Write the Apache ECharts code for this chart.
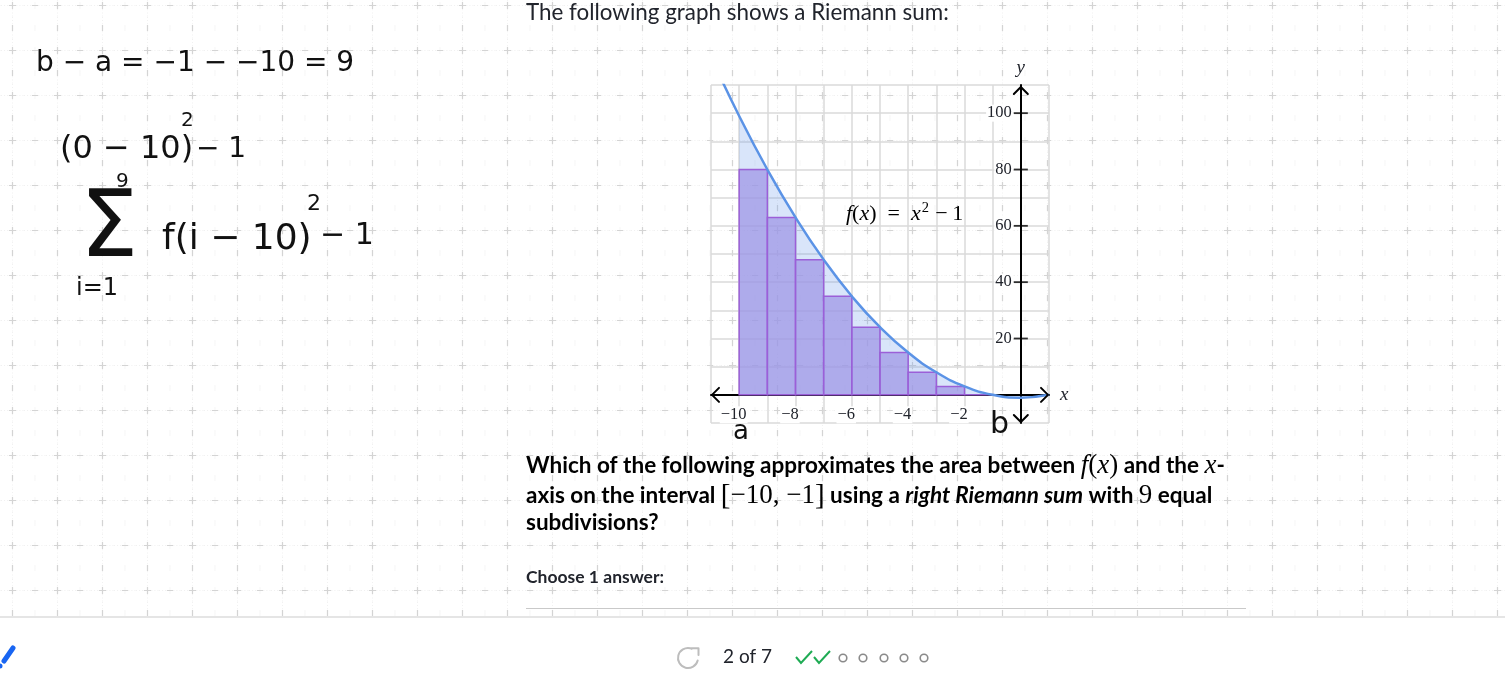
<!DOCTYPE html>
<html><head><meta charset="utf-8">
<script src="https://cdn.jsdelivr.net/npm/echarts@6/dist/echarts.min.js"></script>
<style>
html,body{margin:0;padding:0;background:#fff;overflow:hidden;}
#paper{position:absolute;left:0;top:0;width:1505px;height:616px;
background-image:url("data:image/svg+xml;utf8,<svg xmlns='http://www.w3.org/2000/svg' width='22.5' height='22.5'><path d='M0 11.25H22.5M11.25 0V22.5' stroke='%23f1f1f1' stroke-width='1' stroke-dasharray='1 2'/><path d='M7.75 11.25H14.75M11.25 7.75V14.75' stroke='%23d4d4d4' stroke-width='1.2'/></svg>");
background-size:22.5px 22.5px;background-position:1.25px -5.75px;}
#chart{position:absolute;left:0;top:0;width:1505px;height:678px;}
</style></head>
<body>
<div id="paper"></div>
<div id="chart"></div>
<script>
// ---- data ----
const xTickLabels = [-10, -8, -6, -4, -2];
const yTickLabels = [20, 40, 60, 80, 100];
const rectLeft   = [-10, -9, -8, -7, -6, -5, -4, -3, -2];
const rectRight  = [-9, -8, -7, -6, -5, -4, -3, -2, -1];
const rectHeight = [80, 63, 48, 35, 24, 15, 8, 3, 0];
const curveX = [-11, -10, -9, -8, -7, -6, -5, -4, -3, -2, -1, 0, 1];
const curveY = [120, 99, 80, 63, 48, 35, 24, 15, 8, 3, 0, -1, 0];
const shadeX = [-10, -9, -8, -7, -6, -5, -4, -3, -2, -1];
const shadeY = [99, 80, 63, 48, 35, 24, 15, 8, 3, 0];

const ink = '#21242c';
const serif = "'Liberation Serif', 'DejaVu Serif', serif";
const lato = "Lato, 'Noto Sans', sans-serif";
const hand = "'DejaVu Sans', sans-serif";
const minus = v => String(v).replace('-', '\u2212');

const chart = echarts.init(document.getElementById('chart'), null, {renderer: 'canvas'});

const option = {
  backgroundColor: 'transparent',
  animation: false,
  grid: {left: 711, top: 85, width: 338, height: 338, containLabel: false},
  xAxis: {
    type: 'value', min: -11, max: 1, interval: 1,
    name: 'x', nameLocation: 'end', nameGap: 11,
    nameTextStyle: {fontFamily: serif, fontStyle: 'italic', fontSize: 19, color: ink},
    axisLine: {onZero: true, lineStyle: {color: '#000', width: 2}},
    axisTick: {show: false},
    axisLabel: {show: false},
    splitLine: {show: true, lineStyle: {color: '#dadada', width: 1.5}}
  },
  yAxis: {
    type: 'value', min: -10, max: 110, interval: 10,
    name: 'y', nameLocation: 'end', nameGap: 8,
    nameTextStyle: {fontFamily: serif, fontStyle: 'italic', fontSize: 19, color: ink},
    axisLine: {onZero: true, lineStyle: {color: '#000', width: 2}},
    axisTick: {show: false},
    axisLabel: {show: false},
    splitLine: {show: true, lineStyle: {color: '#dadada', width: 1.5}}
  },
  series: [
    {
      type: 'line', z: 1, silent: true, smooth: true, symbol: 'none',
      data: shadeX.map((x, i) => [x, shadeY[i]]),
      lineStyle: {width: 0},
      areaStyle: {color: 'rgba(100,150,235,0.35)', origin: 0}
    },
    {
      type: 'custom', z: 2, silent: true,
      data: rectLeft.map((l, i) => [l, rectRight[i], rectHeight[i]]),
      encode: {x: [0, 1], y: 2},
      renderItem: function (params, api) {
        const p0 = api.coord([api.value(0), api.value(2)]);
        const p1 = api.coord([api.value(1), 0]);
        return {type: 'rect',
          shape: {x: p0[0], y: p0[1], width: p1[0] - p0[0], height: p1[1] - p0[1]},
          style: {fill: 'rgba(158,148,228,0.72)', stroke: '#9b5fd8', lineWidth: 1.5}};
      }
    },
    {
      type: 'line', z: 3, silent: true, smooth: true, symbol: 'none',
      data: curveX.map((x, i) => [x, curveY[i]]),
      lineStyle: {color: '#5b93e6', width: 2.5}
    },
    {
      type: 'scatter', z: 4, silent: true, symbol: 'rect', symbolSize: [14, 1.8],
      data: yTickLabels.map(v => [0, v]),
      itemStyle: {color: '#000'}
    }
  ]
};
chart.setOption(option);

const P = (x, y) => chart.convertToPixel({gridIndex: 0}, [x, y]);
const L = P(-11, 0), R = P(1, 0), T = P(0, 110), B = P(0, -10);
const arrowStyle = {stroke: '#000', lineWidth: 2, fill: null, lineCap: 'round', lineJoin: 'round'};
const chev = (pts) => ({type: 'polyline', z: 50, shape: {points: pts}, style: arrowStyle});

const txt = (x, y, text, font, extra) => Object.assign({type: 'text', z: 60, x: x, y: y,
  style: Object.assign({text: text, font: font, fill: ink, verticalAlign: 'middle'}, extra || {})});

const handTxt = (x, y, text, size) => ({type: 'text', z: 60, x: x, y: y,
  style: {text: text, fontFamily: hand, fontSize: size, fill: '#111', verticalAlign: 'middle'}});

const mathRich = {
  t: {fontFamily: lato, fontWeight: 'bold', fontSize: 22.5, color: ink},
  ti: {fontFamily: lato, fontWeight: 'bold', fontStyle: 'italic', fontSize: 22.5, color: ink},
  m: {fontFamily: serif, fontSize: 27, color: ink},
  mi: {fontFamily: serif, fontStyle: 'italic', fontSize: 27, color: ink},
  br: {fontFamily: serif, fontSize: 29, color: '#9a9a9a'}
};
const richTxt = (x, y, text, rich) => ({type: 'text', z: 60, x: x, y: y,
  style: {text: text, rich: rich, verticalAlign: 'middle'}});

// tick labels placed through the axes' own scales
const xLabels = xTickLabels.map(v => {
  const p = P(v, 0);
  const digits = String(Math.abs(v)).length;
  return {type: 'text', z: 40, x: p[0] + digits * 4.2, y: p[1] + 20,
    style: {text: minus(v), fontFamily: serif, fontSize: 16.5, fill: ink, align: 'right', verticalAlign: 'middle',
      backgroundColor: '#fff', padding: [0, 1, 0, 1]}};
});
const yLabels = yTickLabels.map(v => {
  const p = P(0, v);
  return {type: 'text', z: 40, x: p[0] - 8, y: p[1],
    style: {text: String(v), fontFamily: serif, fontSize: 16.5, fill: ink, align: 'right', verticalAlign: 'middle',
      backgroundColor: '#fff', padding: [0, 1, 0, 1]}};
});

const graphic = [
  ...xLabels, ...yLabels,
  // axis arrowheads
  chev([[L[0] + 8, L[1] - 7], [L[0] + 1, L[1]], [L[0] + 8, L[1] + 7]]),
  chev([[R[0] - 8, R[1] - 7], [R[0] - 1, R[1]], [R[0] - 8, R[1] + 7]]),
  chev([[T[0] - 7, T[1] + 9], [T[0], T[1] + 2], [T[0] + 7, T[1] + 9]]),
  chev([[B[0] - 7, B[1] - 8], [B[0], B[1] - 1], [B[0] + 7, B[1] - 8]]),
  // function annotation
  richTxt(846, 214, '{i|f}{r|(}{i|x}{r|)\u2002=\u2002}{i|x}{s|2}{r|\u2009\u2212\u20091}', {
    i: {fontFamily: serif, fontStyle: 'italic', fontSize: 22, color: ink},
    r: {fontFamily: serif, fontSize: 22, color: ink},
    s: {fontFamily: serif, fontSize: 14.5, color: ink, verticalAlign: 'top', padding: [0, 2, 11, 1]}
  }),
  // page text
  txt(526, 13, 'The following graph shows a Riemann sum:', "22.4px " + lato),
  richTxt(526, 466, '{t|Which of the following approximates the area between }{mi|f}{m|(}{mi|x}{m|)}{t| and the }{mi|x}{t|-}', mathRich),
  richTxt(526, 496, '{t|axis on the interval }{br|[}{m|\u221210, \u22121}{br|]}{t| using a }{ti|right Riemann sum}{t| with }{m|9}{t| equal}', mathRich),
  richTxt(526, 523, '{t|subdivisions?}', mathRich),
  txt(526, 577, 'Choose 1 answer:', "bold 17.5px " + lato),
  {type: 'line', z: 10, shape: {x1: 526, y1: 608.5, x2: 1246, y2: 608.5}, style: {stroke: '#c9c9c9', lineWidth: 1}},
  {type: 'rect', z: 5, shape: {x: 0, y: 617, width: 1505, height: 61}, style: {fill: '#fff'}},
  {type: 'line', z: 10, shape: {x1: 0, y1: 617, x2: 1505, y2: 617}, style: {stroke: '#dcdcdc', lineWidth: 1.5}},
  // footer
  {type: 'arc', z: 20, shape: {cx: 688, cy: 658, r: 10, startAngle: Math.PI * 0.08, endAngle: Math.PI * 1.62, clockwise: true},
    style: {stroke: '#bdbdbd', lineWidth: 2, fill: null, lineCap: 'round'}},
  {type: 'polyline', z: 20, shape: {points: [[692, 648.3], [698.5, 648.3], [698.5, 655]]},
    style: {stroke: '#bdbdbd', lineWidth: 2, fill: null, lineCap: 'round', lineJoin: 'round'}},
  txt(723, 657, '2 of 7', "19px " + lato),
  {type: 'polyline', z: 20, shape: {points: [[796, 657], [801, 663], [812, 651]]}, style: {stroke: '#1fab54', lineWidth: 2, fill: null}},
  {type: 'polyline', z: 20, shape: {points: [[814, 657], [819, 663], [830, 651]]}, style: {stroke: '#1fab54', lineWidth: 2, fill: null}},
  ...[843, 863, 884, 904, 924].map(cx => ({type: 'circle', z: 20, shape: {cx: cx, cy: 658, r: 3.8},
    style: {stroke: '#8a8a8a', lineWidth: 1.6, fill: null}})),
  // pencil tool mark
  {type: 'line', z: 20, shape: {x1: 4, y1: 661, x2: 13, y2: 648}, style: {stroke: '#1865f2', lineWidth: 5, lineCap: 'round'}},
  {type: 'circle', z: 20, shape: {cx: 0, cy: 666, r: 2.5}, style: {fill: '#1865f2'}},
  // handwritten notes
  handTxt(36, 64, 'b \u2212 a = \u22121 \u2212 \u221210 = 9', 28),
  handTxt(60, 150, '(0 \u2212 10)', 32),
  handTxt(181, 121, '2', 20),
  handTxt(196, 150, '\u2212 1', 28),
  handTxt(116, 182, '9', 20),
  handTxt(80, 232, '\u03a3', 92),
  handTxt(162, 240, 'f(i \u2212 10)', 36),
  handTxt(307, 204, '2', 22),
  handTxt(320, 236, '\u2212 1', 30),
  handTxt(76, 289, 'i=1', 24),
  handTxt(733, 432, 'a', 26),
  handTxt(990, 425, 'b', 30)
];
chart.setOption({graphic: graphic});
</script>
</body></html>
